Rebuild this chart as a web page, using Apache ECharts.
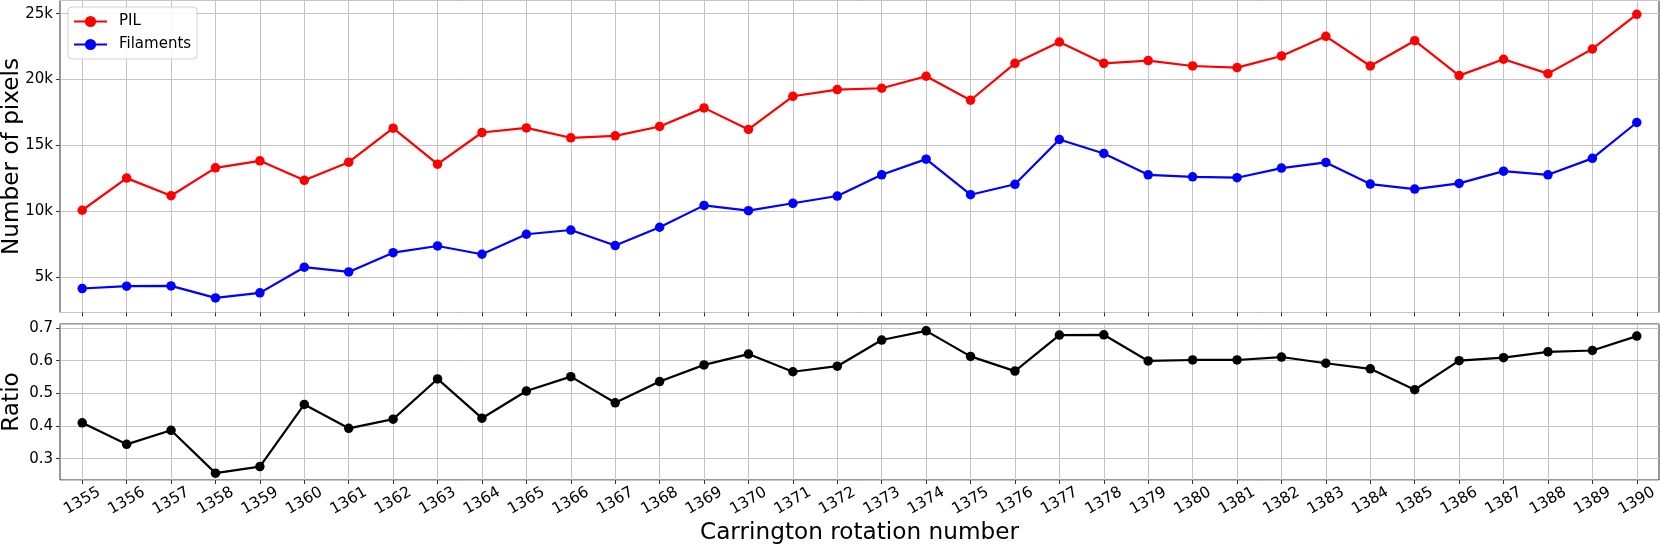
<!DOCTYPE html>
<html>
<head>
<meta charset="utf-8">
<script src="https://cdn.jsdelivr.net/npm/echarts@6/dist/echarts.min.js"></script>
<style>
html,body{margin:0;padding:0;background:#fff;}
#chart{width:1660px;height:544px;}
</style>
</head>
<body>
<div id="chart"></div>
<script>
const rotations = ['1355','1356','1357','1358','1359','1360','1361','1362','1363','1364','1365','1366','1367','1368','1369','1370','1371','1372','1373','1374','1375','1376','1377','1378','1379','1380','1381','1382','1383','1384','1385','1386','1387','1388','1389','1390'];
const pilPixels = [10080,12520,11180,13300,13830,12350,13730,16310,13580,15980,16330,15580,15730,16440,17850,16210,18730,19240,19340,20250,18430,21230,22850,21230,21440,21030,20910,21790,23280,21030,22950,20300,21540,20450,22320,24950];
const filamentPixels = [4140,4320,4340,3430,3810,5760,5400,6860,7370,6740,8260,8580,7400,8790,10450,10050,10610,11160,12770,13960,11260,12050,15450,14390,12770,12620,12550,13280,13710,12070,11690,12120,13050,12770,14020,16740];
const ratioValues = [0.410,0.344,0.387,0.256,0.276,0.466,0.393,0.421,0.544,0.424,0.507,0.551,0.471,0.536,0.587,0.620,0.566,0.583,0.663,0.691,0.613,0.568,0.678,0.679,0.599,0.602,0.602,0.611,0.592,0.575,0.511,0.600,0.609,0.627,0.631,0.675];

const FONT = 'DejaVu Sans';
const TICK_FS = 15;
const TITLE_FS = 23.2;
const LW = 2.2;
const SYM = 9.5;
const gridLine = {show: true, lineStyle: {color: '#c4c4c4', width: 1}};
const tickStyle = {show: true, length: 4, inside: false, lineStyle: {color: '#333', width: 1}};

const chart = echarts.init(document.getElementById('chart'), null, {renderer: 'canvas'});
chart.setOption({
  animation: false,
  backgroundColor: '#fff',
  textStyle: {fontFamily: FONT},
  grid: [
    {left: 60, top: 0.5, width: 1599, height: 312, show: true, borderColor: '#333', borderWidth: 1, containLabel: false, outerBoundsMode: 'none'},
    {left: 60, top: 324, width: 1599, height: 156, show: true, borderColor: '#333', borderWidth: 1, containLabel: false, outerBoundsMode: 'none'}
  ],
  legend: {
    data: ['PIL', 'Filaments'],
    orient: 'vertical',
    left: 68, top: 7,
    padding: [7, 6, 7, 5],
    itemWidth: 33, itemHeight: 14, itemGap: 8,
    backgroundColor: 'rgba(255,255,255,0.85)',
    borderColor: '#d0d0d0', borderWidth: 1, borderRadius: 4,
    textStyle: {fontFamily: FONT, fontSize: TICK_FS, color: '#000', padding: [0, 0, 0, 7]}
  },
  xAxis: [
    {type: 'category', gridIndex: 0, data: rotations, boundaryGap: true,
     axisLine: {show: false}, axisTick: Object.assign({alignWithLabel: true, interval: 0}, tickStyle),
     axisLabel: {show: false, interval: 0},
     splitLine: Object.assign({alignWithLabel: true, interval: 0}, gridLine)},
    {type: 'category', gridIndex: 1, data: rotations, boundaryGap: true,
     axisLine: {show: false}, axisTick: Object.assign({alignWithLabel: true, interval: 0}, tickStyle),
     axisLabel: {show: true, interval: 0, rotate: 30, align: 'center', verticalAlign: 'middle', margin: 21,
                 fontFamily: FONT, fontSize: 15.5, color: '#000'},
     splitLine: Object.assign({alignWithLabel: true, interval: 0}, gridLine),
     name: 'Carrington rotation number', nameLocation: 'middle', nameGap: 41,
     nameTextStyle: {fontFamily: FONT, fontSize: TITLE_FS, color: '#000'}}
  ],
  yAxis: [
    {type: 'value', gridIndex: 0, min: 2320, max: 26000, splitNumber: 5,
     axisLine: {show: false}, axisTick: tickStyle,
     axisLabel: {fontFamily: FONT, fontSize: TICK_FS, color: '#000', margin: 7, showMinLabel: false, showMaxLabel: false,
                 formatter: v => (v % 5000 === 0 ? (v / 1000) + 'k' : '')},
     splitLine: gridLine,
     name: 'Number of pixels', nameLocation: 'middle', nameGap: 37, nameMoveOverlap: false,
     nameTextStyle: {fontFamily: FONT, fontSize: TITLE_FS, color: '#000'}},
    {type: 'value', gridIndex: 1, min: 0.235, max: 0.712, splitNumber: 5,
     axisLine: {show: false}, axisTick: tickStyle,
     axisLabel: {fontFamily: FONT, fontSize: TICK_FS, color: '#000', margin: 7, showMinLabel: false, showMaxLabel: false,
                 formatter: v => { const r = Math.round(v * 10) / 10; return Math.abs(v - r) < 1e-6 ? r.toFixed(1) : ''; }},
     splitLine: gridLine,
     name: 'Ratio', nameLocation: 'middle', nameGap: 37, nameMoveOverlap: false,
     nameTextStyle: {fontFamily: FONT, fontSize: TITLE_FS, color: '#000'}}
  ],
  series: [
    {name: 'PIL', type: 'line', xAxisIndex: 0, yAxisIndex: 0, data: pilPixels,
     symbol: 'circle', symbolSize: SYM, color: '#ff0000', lineStyle: {width: LW, color: '#ff0000'}, itemStyle: {color: '#ff0000'}},
    {name: 'Filaments', type: 'line', xAxisIndex: 0, yAxisIndex: 0, data: filamentPixels,
     symbol: 'circle', symbolSize: SYM, color: '#0000ff', lineStyle: {width: LW, color: '#0000ff'}, itemStyle: {color: '#0000ff'}},
    {name: 'Ratio', type: 'line', xAxisIndex: 1, yAxisIndex: 1, data: ratioValues,
     symbol: 'circle', symbolSize: SYM, color: '#000', lineStyle: {width: LW, color: '#000'}, itemStyle: {color: '#000'}}
  ]
});
</script>
</body>
</html>
